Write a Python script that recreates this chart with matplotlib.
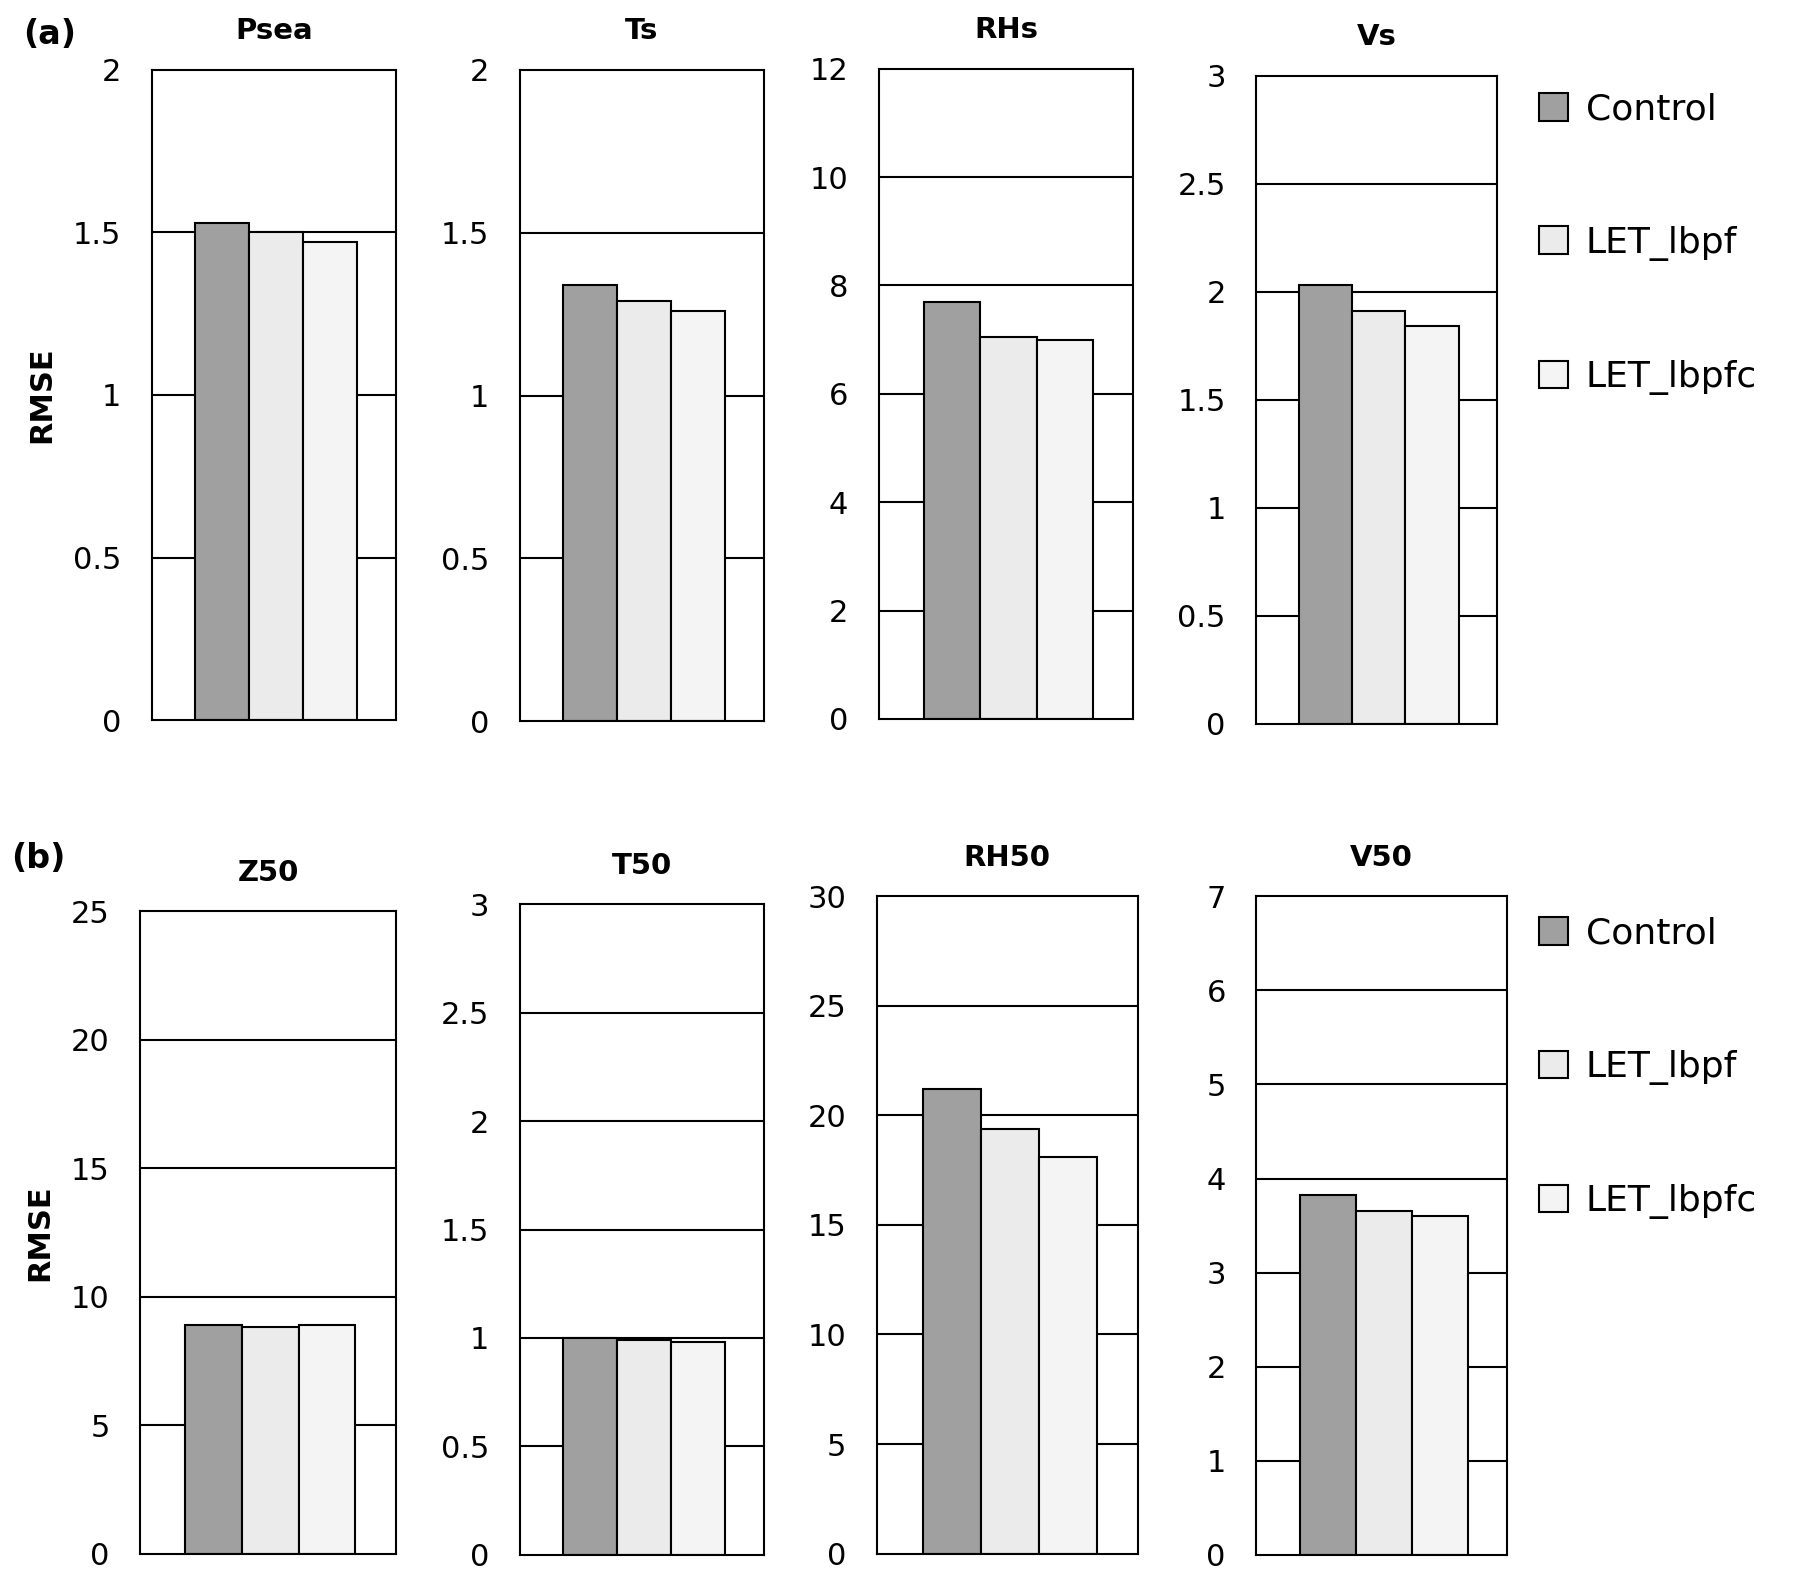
import matplotlib.pyplot as plt
from matplotlib.patches import Patch

# Data
series = ['Control', 'LET_lbpf', 'LET_lbpfc']
colors = ['#a0a0a0', '#ebebeb', '#f4f4f4']

titles_a = ['Psea', 'Ts', 'RHs', 'Vs']
values_a = [[1.53, 1.50, 1.47], [1.34, 1.29, 1.26], [7.7, 7.05, 7.0], [2.03, 1.91, 1.84]]
ylims_a = [(2, 0.5), (2, 0.5), (12, 2), (3, 0.5)]

titles_b = ['Z50', 'T50', 'RH50', 'V50']
values_b = [[8.9, 8.8, 8.9], [1.0, 0.99, 0.98], [21.2, 19.4, 18.1], [3.82, 3.65, 3.6]]
ylims_b = [(25, 5), (3, 0.5), (30, 5), (7, 1)]

W, H = 1568.0, 1381.0
boxes_a = [(132, 61, 344, 629), (452, 61, 664, 630), (764, 60, 985, 628), (1092, 66, 1301, 632)]
boxes_b = [(122, 796, 344, 1357), (452, 790, 664, 1358), (762, 783, 989, 1357), (1092, 783, 1310, 1358)]

fig = plt.figure(figsize=(18.04, 15.81), dpi=100)


def fmt(v):
    return f'{v:g}'


def draw(box, title, vals, ylim, ylabel):
    x0, y0, x1, y1 = box
    ax = fig.add_axes([x0 / W, 1 - y1 / H, (x1 - x0) / W, (y1 - y0) / H])
    top, step = ylim
    ticks = [i * step for i in range(int(round(top / step)) + 1)]
    for t in ticks[1:-1]:
        ax.axhline(t, color='black', lw=1.5, zorder=1)
    ax.bar(range(3), vals, width=1.0, color=colors, edgecolor='black', lw=1.5, zorder=2)
    ax.set_xlim(-1.29, 3.21)
    ax.set_ylim(0, top)
    ax.set_yticks(ticks)
    ax.set_yticklabels([fmt(t) for t in ticks], fontsize=22, fontweight='medium')
    ax.tick_params(axis='y', length=0, pad=22)
    ax.set_xticks([])
    for s in ax.spines.values():
        s.set_linewidth(1.5)
    ax.set_title(title, fontsize=21, fontweight='bold', pad=22)
    if ylabel:
        ax.set_ylabel('RMSE', fontsize=22, fontweight='bold', labelpad=12)
    return ax


for i in range(4):
    draw(boxes_a[i], titles_a[i], values_a[i], ylims_a[i], i == 0)
    draw(boxes_b[i], titles_b[i], values_b[i], ylims_b[i], i == 0)

handles = [Patch(facecolor=c, edgecolor='black', lw=1.5) for c in colors]
for ypos in (1 - 68 / H, 1 - 788 / H):
    fig.legend(handles, series, loc='upper left', bbox_to_anchor=(1325 / W, ypos),
               frameon=False, fontsize=26, labelspacing=2.75, handlelength=0.8,
               handleheight=0.8, handletextpad=0.5, borderaxespad=0)

fig.text(20 / W, 1 - 30 / H, '(a)', fontsize=24, fontweight='bold', va='center')
fig.text(10 / W, 1 - 750 / H, '(b)', fontsize=24, fontweight='bold', va='center')

fig.savefig('out.png', dpi=100)
